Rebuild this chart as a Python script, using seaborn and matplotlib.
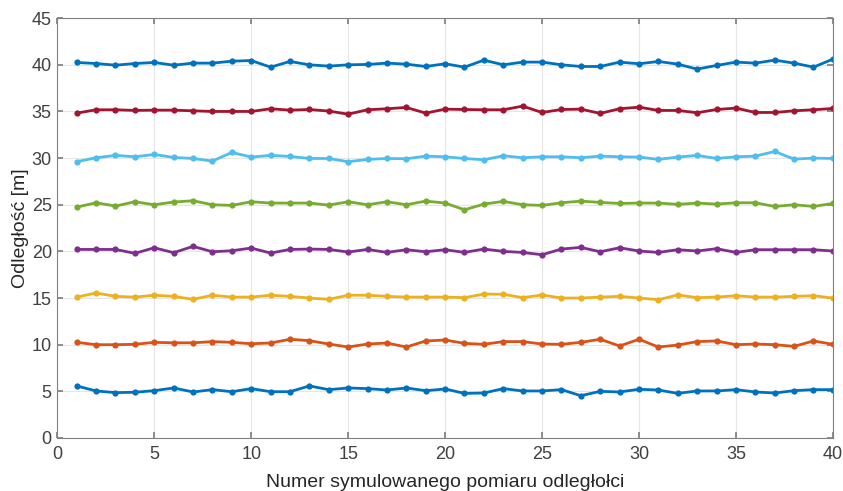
"""
Symulowane pomiary odleglosci - 8 serii
"""
import matplotlib
matplotlib.use("Agg")
import matplotlib.pyplot as plt
import seaborn as sns
import pandas as pd
import numpy as np

# numer pomiaru
measurement = list(range(1, 41))

d5 = [5.58, 5.04, 4.86, 4.90, 5.07, 5.36, 4.93, 5.18, 4.96, 5.29,
      4.96, 4.96, 5.58, 5.18, 5.36, 5.29, 5.14, 5.36, 5.07, 5.25,
      4.78, 4.82, 5.29, 5.04, 5.04, 5.18, 4.53, 5.00, 4.93, 5.22,
      5.14, 4.78, 5.04, 5.04, 5.18, 4.93, 4.82, 5.07, 5.18, 5.18]
d10 = [10.25, 10.0, 10.0, 10.04, 10.25, 10.2, 10.2, 10.33, 10.25, 10.1,
       10.18, 10.58, 10.43, 10.07, 9.75, 10.07, 10.18, 9.75, 10.4, 10.5,
       10.14, 10.04, 10.33, 10.33, 10.07, 10.04, 10.25, 10.58, 9.86, 10.58,
       9.75, 9.96, 10.33, 10.4, 10.0, 10.07, 10.0, 9.82, 10.4, 10.04]
d15 = [15.1, 15.54, 15.18, 15.1, 15.3, 15.18, 14.86, 15.3, 15.1, 15.1,
       15.3, 15.18, 15.0, 14.86, 15.3, 15.3, 15.18, 15.1, 15.1, 15.1,
       15.04, 15.43, 15.4, 15.04, 15.33, 15.0, 15.0, 15.1, 15.18, 15.0,
       14.82, 15.33, 15.04, 15.1, 15.25, 15.1, 15.1, 15.18, 15.25, 15.0]
d20 = [20.21, 20.21, 20.21, 19.79, 20.39, 19.86, 20.54, 19.96, 20.07, 20.36,
       19.82, 20.21, 20.25, 20.21, 19.93, 20.21, 19.89, 20.18, 19.96, 20.18,
       19.89, 20.25, 20.0, 19.89, 19.64, 20.25, 20.43, 19.96, 20.39, 20.04,
       19.89, 20.18, 20.04, 20.29, 19.89, 20.18, 20.18, 20.18, 20.18, 20.04]
d25 = [24.75, 25.21, 24.86, 25.32, 25.0, 25.29, 25.43, 25.0, 24.93, 25.32,
       25.18, 25.18, 25.18, 24.96, 25.32, 25.0, 25.32, 25.0, 25.39, 25.18,
       24.46, 25.07, 25.36, 25.0, 24.93, 25.21, 25.39, 25.25, 25.14, 25.18,
       25.18, 25.04, 25.18, 25.07, 25.21, 25.21, 24.82, 25.0, 24.82, 25.14]
d30 = [29.61, 30.04, 30.29, 30.14, 30.39, 30.07, 29.96, 29.68, 30.61, 30.11,
       30.29, 30.18, 29.96, 29.96, 29.61, 29.86, 29.96, 29.93, 30.21, 30.14,
       29.96, 29.82, 30.25, 30.04, 30.14, 30.14, 30.04, 30.21, 30.14, 30.11,
       29.86, 30.11, 30.29, 29.96, 30.14, 30.21, 30.71, 29.89, 30.0, 29.96]
d35 = [34.82, 35.18, 35.18, 35.11, 35.14, 35.14, 35.07, 35.0, 35.0, 35.0,
       35.29, 35.14, 35.21, 35.04, 34.71, 35.18, 35.29, 35.43, 34.82, 35.25,
       35.21, 35.18, 35.18, 35.57, 34.89, 35.21, 35.25, 34.79, 35.29, 35.46,
       35.11, 35.11, 34.86, 35.21, 35.36, 34.89, 34.89, 35.07, 35.18, 35.32]
d40 = [40.25, 40.14, 39.96, 40.14, 40.25, 39.96, 40.18, 40.18, 40.39, 40.46,
       39.75, 40.36, 40.0, 39.86, 40.0, 40.04, 40.18, 40.07, 39.82, 40.11,
       39.75, 40.5, 40.0, 40.29, 40.29, 40.0, 39.82, 39.82, 40.29, 40.11,
       40.36, 40.07, 39.54, 39.93, 40.29, 40.18, 40.5, 40.18, 39.75, 40.61]

series_names = ["5 m", "10 m", "15 m", "20 m", "25 m", "30 m", "35 m", "40 m"]
series_values = [d5, d10, d15, d20, d25, d30, d35, d40]

# domyslne kolory MATLAB-a
matlab_colors = ["#0072BD", "#D95319", "#EDB120", "#7E2F8E",
                 "#77AC30", "#4DBEEE", "#A2142F", "#0072BD"]

rows = []
for name, vals in zip(series_names, series_values):
    for n, v in zip(measurement, vals):
        rows.append({"seria": name, "nr": n, "odl": v})
df = pd.DataFrame(rows)

sns.set_theme(style="whitegrid")
plt.rcParams['font.family'] = ['Liberation Sans', 'DejaVu Sans']

fig = plt.figure(figsize=(8.43, 4.91), dpi=100)
ax = fig.add_axes([0.068, 0.108, 0.920, 0.855])

sns.lineplot(data=df, x="nr", y="odl", hue="seria", hue_order=series_names,
             palette=matlab_colors, marker="o", markersize=4.5,
             markeredgewidth=0, linewidth=2, legend=False, ax=ax)

ax.set_xlim(0, 40)
ax.set_ylim(0, 45)
ax.set_xticks(np.arange(0, 41, 5))
ax.set_yticks(np.arange(0, 46, 5))
ax.grid(True, color="#e6e6e6", linewidth=0.8)
for s in ax.spines.values():
    s.set_color("#808080")
    s.set_linewidth(0.8)
ax.tick_params(axis="both", direction="in", length=4, color="#808080",
               labelsize=13, labelcolor="#404040")
ax.tick_params(axis="x", top=True, bottom=True, pad=6)
ax.tick_params(axis="y", left=True, right=True, pad=4)
ax.set_xlabel("Numer symulowanego pomiaru odległołci", fontsize=14, color="#262626", labelpad=8)
ax.set_ylabel("Odległość [m]", fontsize=14, color="#262626", labelpad=2)

plt.savefig("out.png", dpi=100)
plt.close()
